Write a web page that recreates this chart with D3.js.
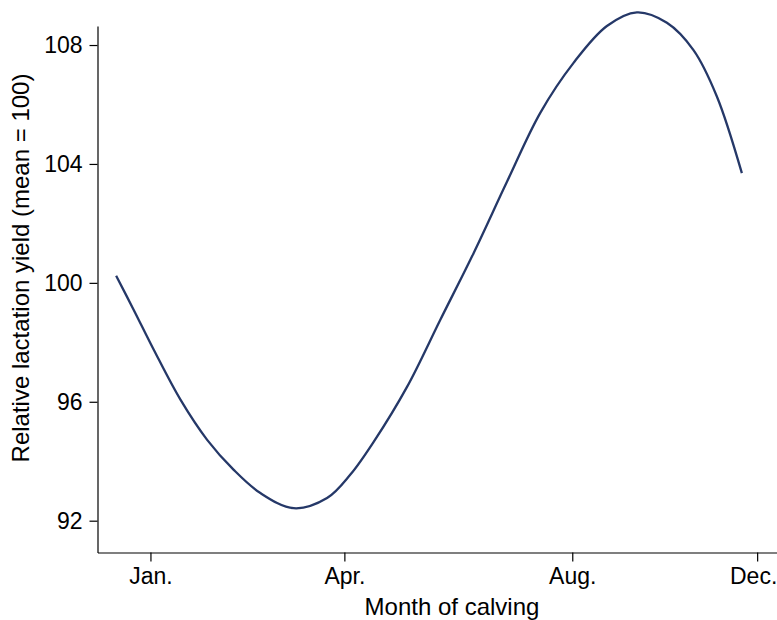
<!DOCTYPE html>
<html>
<head>
<meta charset="utf-8">
<script src="https://cdn.jsdelivr.net/npm/d3@7"></script>
<style>
html,body{margin:0;padding:0;background:#fff;}
svg{display:block;}
text{font-family:"Liberation Sans",Arial,Helvetica,sans-serif;fill:#000;}
</style>
</head>
<body>
<svg id="chart" width="777" height="620"></svg>
<script>
// x in month units (Jan. = 1, Dec. = 12)
const monthPos = [0.378, 0.697, 1.060, 1.544, 2.028, 2.510, 2.993, 3.597, 4.202, 4.625,
  5.047, 5.652, 6.256, 6.859, 7.464, 8.068, 8.671, 9.276, 9.820, 10.364, 10.846, 11.270, 11.723];
const yieldValues = [100.24, 99.09, 97.75, 96.07, 94.72, 93.71, 92.93, 92.42, 92.76, 93.55,
  94.65, 96.50, 98.76, 101.0, 103.40, 105.72, 107.40, 108.64, 109.1, 108.75, 107.83, 106.27, 103.69];
const xTickLabels = ["Jan.", "Apr.", "Aug.", "Dec."];
const xTickValues = [1, 4.516, 8.648, 12];
const yTickValues = [92, 96, 100, 104, 108];

const svg = d3.select("#chart");
const x = d3.scaleLinear().domain([0.04, 12.36]).range([97.5, 777]);
const y = d3.scaleLinear().domain([90.93, 108.64]).range([552.5, 26]);

const tickFs = 23, titleFs = 24;
// x axis
const xAxis = svg.append("g").attr("transform", "translate(0,552.5)")
  .call(d3.axisBottom(x).tickValues(xTickValues)
    .tickFormat((d, i) => xTickLabels[i]).tickSizeInner(9).tickSizeOuter(0).tickPadding(6));
xAxis.selectAll("text").style("font-size", tickFs + "px").attr("dy", "0.71em")
  .attr("dx", (d, i) => i === xTickLabels.length - 1 ? -4 : 0);
xAxis.selectAll("path,line").attr("stroke", "#000").attr("stroke-width", 1.2);

// y axis
const yAxis = svg.append("g").attr("transform", "translate(97.5,0)")
  .call(d3.axisLeft(y).tickValues(yTickValues).tickSizeInner(8).tickSizeOuter(0).tickPadding(7));
yAxis.selectAll("text").style("font-size", tickFs + "px");
yAxis.selectAll("path,line").attr("stroke", "#000").attr("stroke-width", 1.2);
xAxis.attr("font-family", null);
yAxis.attr("font-family", null);

// curve
const data = monthPos.map((m, i) => ({m, v: yieldValues[i]}));
svg.append("path").datum(data)
  .attr("fill", "none")
  .attr("stroke", "#253868")
  .attr("stroke-width", 2.3)
  .attr("d", d3.line().x(d => x(d.m)).y(d => y(d.v)).curve(d3.curveCatmullRom.alpha(0.5)));

// titles
svg.append("text").attr("x", 452).attr("y", 615).attr("text-anchor", "middle")
  .style("font-size", titleFs + "px").text("Month of calving");
svg.append("text").attr("transform", "translate(29,268) rotate(-90)").attr("text-anchor", "middle")
  .style("font-size", titleFs + "px").text("Relative lactation yield (mean = 100)");
</script>
</body>
</html>
